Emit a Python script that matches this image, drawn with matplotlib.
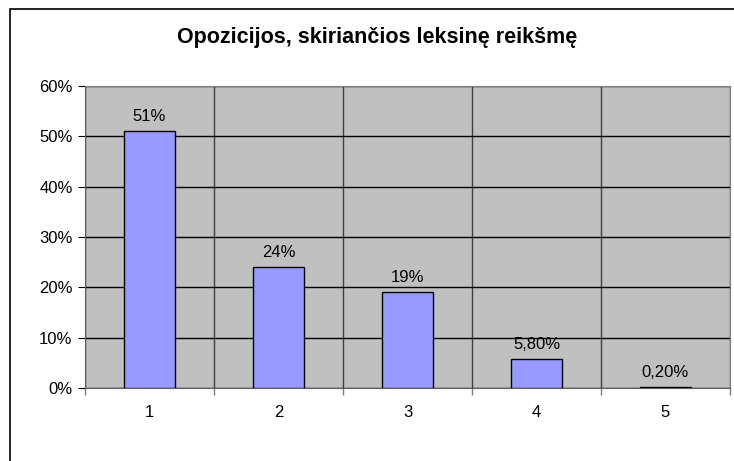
import matplotlib.pyplot as plt
from matplotlib.patches import Rectangle
from matplotlib.ticker import MultipleLocator, FuncFormatter

categories = ['1', '2', '3', '4', '5']
values = [51, 24, 19, 5.8, 0.2]
value_labels = ['51%', '24%', '19%', '5,80%', '0,20%']
title = 'Opozicijos, skiriančios leksinę reikšmę'

plt.rcParams['font.family'] = ['Liberation Sans', 'DejaVu Sans']

fig = plt.figure(figsize=(7.34, 4.61), dpi=100)
fig.patch.set_facecolor('white')

# chart border (cut off at right and bottom like the original)
fig.patches.append(Rectangle((10 / 734, -0.1), 1.1, 1 - 9 / 461 + 0.1,
                             transform=fig.transFigure, fill=False,
                             edgecolor='black', linewidth=1.2))

ax = fig.add_axes([85 / 734, 73 / 461, 645 / 734, 302 / 461])
ax.set_facecolor('#C0C0C0')

x = list(range(len(categories)))
bars = ax.bar(x, values, width=0.4, color='#9999FF', edgecolor='black',
              linewidth=1, zorder=3)

for b, lab in zip(bars, value_labels):
    ax.annotate(lab, (b.get_x() + b.get_width() / 2, b.get_height()),
                xytext=(0, 5), textcoords='offset points', ha='center',
                va='bottom', fontsize=12)

ax.set_xlim(-0.5, len(categories) - 0.5)
ax.set_ylim(0, 60)
ax.yaxis.set_major_locator(MultipleLocator(10))
ax.yaxis.set_major_formatter(FuncFormatter(lambda v, p: f'{v:.0f}%'))

ax.set_xticks(x)
ax.set_xticklabels(categories, fontsize=12)
ax.set_xticks([i + 0.5 for i in range(-1, len(categories))], minor=True)
ax.tick_params(axis='x', which='major', length=0, pad=12)
ax.tick_params(axis='x', which='minor', length=5, color='#808080', width=1)
ax.tick_params(axis='y', length=5, labelsize=12, pad=4)

ax.grid(axis='y', color='black', linewidth=1, zorder=1)
ax.grid(axis='x', which='minor', color='#404040', linewidth=1, zorder=1)
ax.set_axisbelow(True)

for s in ['top', 'right']:
    ax.spines[s].set_color('#808080')
ax.spines['left'].set_color('#606060')
ax.spines['bottom'].set_color('#606060')

fig.text(377 / 734, 1 - 38 / 461, title, ha='center', va='center',
         fontsize=15.5, fontweight='bold')

fig.savefig('out.png', dpi=100)
